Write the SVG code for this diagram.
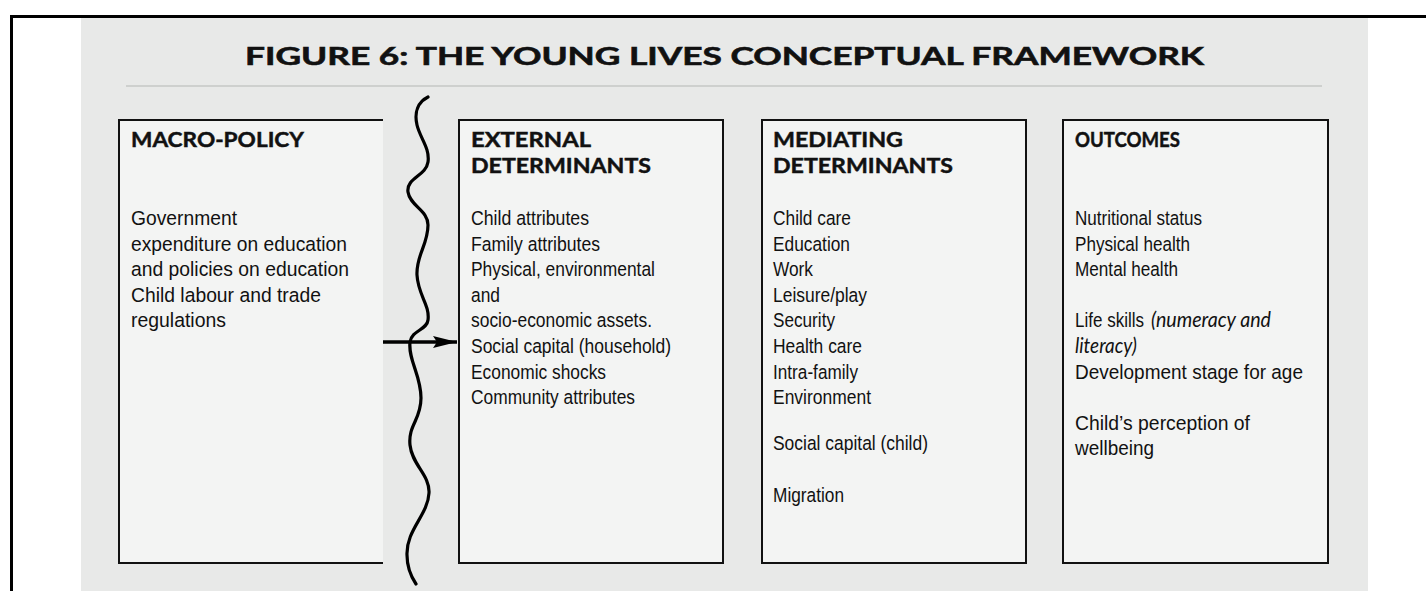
<svg xmlns="http://www.w3.org/2000/svg" width="1426" height="591" viewBox="0 0 1426 591">
  <defs>
    <style>
      .panel { fill: #e8e9e8; }
      .box { fill: #f3f4f3; stroke: #111; stroke-width: 2; }
      .edge { fill: none; stroke: #111; stroke-width: 2; }
      .frame { fill: none; stroke: #000; stroke-width: 3; }
      .title { font-family: Lato, "Liberation Sans", sans-serif; font-weight: 700; font-size: 25px; fill: #111; stroke: #111; stroke-width: 0.6; }
      .head { font-family: Lato, "Liberation Sans", sans-serif; font-weight: 700; font-size: 20px; fill: #111; stroke: #111; stroke-width: 0.45; }
      .body { font-family: "Liberation Sans", Arial, sans-serif; font-size: 19.3px; fill: #111; }
      .narrow { font-family: "Liberation Sans", Arial, sans-serif; font-size: 20.5px; fill: #111; }
      .ital { font-family: Lato, "Liberation Sans", sans-serif; font-style: italic; }
      .wave { fill: none; stroke: #000; stroke-width: 3.2; stroke-linecap: round; }
      .link { fill: none; stroke: #000; stroke-width: 3.6; }
    </style>
    <marker id="arrowhead" markerUnits="userSpaceOnUse" markerWidth="24" markerHeight="12" refX="24" refY="6" orient="auto">
      <path d="M0,0 L24,6 L0,12 L4,6 Z" fill="#000"/>
    </marker>
  </defs>

  <!-- page frame and background panel -->
  <rect x="0" y="0" width="1426" height="591" fill="#ffffff"/>
  <rect class="panel" x="81" y="18" width="1287" height="573"/>
  <path class="frame" d="M11.5,591 V16.5 H1426"/>

  <!-- title -->
  <g id="title">
    <text class="title" x="245" y="65" textLength="959" lengthAdjust="spacingAndGlyphs">FIGURE 6: THE YOUNG LIVES CONCEPTUAL FRAMEWORK</text>
    <line x1="126" y1="86" x2="1322" y2="86" stroke="#c6c7c6" stroke-width="1.5"/>
  </g>

  <!-- macro-policy column (open on the right) -->
  <g id="macro-policy">
    <rect x="119" y="120" width="264" height="443" fill="#f3f4f3"/>
    <path class="edge" d="M383,120 H119 V563 H383"/>
    <text class="head" x="131" y="147" textLength="173" lengthAdjust="spacingAndGlyphs">MACRO-POLICY</text>
    <text class="body" x="131" y="225" textLength="106" lengthAdjust="spacingAndGlyphs">Government</text>
    <text class="body" x="131" y="250.6" textLength="216" lengthAdjust="spacingAndGlyphs">expenditure on education</text>
    <text class="body" x="131" y="276.2" textLength="218" lengthAdjust="spacingAndGlyphs">and policies on education</text>
    <text class="body" x="131" y="301.8" textLength="190" lengthAdjust="spacingAndGlyphs">Child labour and trade</text>
    <text class="body" x="131" y="327.4" textLength="95" lengthAdjust="spacingAndGlyphs">regulations</text>
  </g>

  <!-- external determinants -->
  <g id="external-determinants">
    <rect class="box" x="459" y="120" width="264" height="443"/>
    <text class="head" x="471" y="147" textLength="120" lengthAdjust="spacingAndGlyphs">EXTERNAL</text>
    <text class="head" x="471" y="173" textLength="180" lengthAdjust="spacingAndGlyphs">DETERMINANTS</text>
    <text class="narrow" x="471" y="225" textLength="118" lengthAdjust="spacingAndGlyphs">Child attributes</text>
    <text class="narrow" x="471" y="250.6" textLength="129" lengthAdjust="spacingAndGlyphs">Family attributes</text>
    <text class="narrow" x="471" y="276.2" textLength="184" lengthAdjust="spacingAndGlyphs">Physical, environmental</text>
    <text class="narrow" x="471" y="301.8" textLength="29" lengthAdjust="spacingAndGlyphs">and</text>
    <text class="narrow" x="471" y="327.4" textLength="181" lengthAdjust="spacingAndGlyphs">socio-economic assets.</text>
    <text class="narrow" x="471" y="353" textLength="200" lengthAdjust="spacingAndGlyphs">Social capital (household)</text>
    <text class="narrow" x="471" y="378.6" textLength="135" lengthAdjust="spacingAndGlyphs">Economic shocks</text>
    <text class="narrow" x="471" y="404.2" textLength="164" lengthAdjust="spacingAndGlyphs">Community attributes</text>
  </g>

  <!-- mediating determinants -->
  <g id="mediating-determinants">
    <rect class="box" x="762" y="120" width="264" height="443"/>
    <text class="head" x="773" y="147" textLength="130" lengthAdjust="spacingAndGlyphs">MEDIATING</text>
    <text class="head" x="773" y="173" textLength="180" lengthAdjust="spacingAndGlyphs">DETERMINANTS</text>
    <text class="narrow" x="773" y="225" textLength="78" lengthAdjust="spacingAndGlyphs">Child care</text>
    <text class="narrow" x="773" y="250.6" textLength="77" lengthAdjust="spacingAndGlyphs">Education</text>
    <text class="narrow" x="773" y="276.2" textLength="40" lengthAdjust="spacingAndGlyphs">Work</text>
    <text class="narrow" x="773" y="301.8" textLength="94" lengthAdjust="spacingAndGlyphs">Leisure/play</text>
    <text class="narrow" x="773" y="327.4" textLength="62" lengthAdjust="spacingAndGlyphs">Security</text>
    <text class="narrow" x="773" y="353" textLength="89" lengthAdjust="spacingAndGlyphs">Health care</text>
    <text class="narrow" x="773" y="378.6" textLength="85" lengthAdjust="spacingAndGlyphs">Intra-family</text>
    <text class="narrow" x="773" y="404.2" textLength="98" lengthAdjust="spacingAndGlyphs">Environment</text>
    <text class="narrow" x="773" y="450" textLength="155" lengthAdjust="spacingAndGlyphs">Social capital (child)</text>
    <text class="narrow" x="773" y="501.5" textLength="71" lengthAdjust="spacingAndGlyphs">Migration</text>
  </g>

  <!-- outcomes -->
  <g id="outcomes">
    <rect class="box" x="1063" y="120" width="265" height="443"/>
    <text class="head" x="1075" y="147" textLength="105" lengthAdjust="spacingAndGlyphs">OUTCOMES</text>
    <text class="narrow" x="1075" y="225" textLength="127" lengthAdjust="spacingAndGlyphs">Nutritional status</text>
    <text class="narrow" x="1075" y="250.6" textLength="115" lengthAdjust="spacingAndGlyphs">Physical health</text>
    <text class="narrow" x="1075" y="276.2" textLength="103" lengthAdjust="spacingAndGlyphs">Mental health</text>
    <text class="narrow" x="1075" y="327.4"><tspan textLength="69" lengthAdjust="spacingAndGlyphs">Life skills</tspan><tspan class="ital" x="1151" textLength="120" lengthAdjust="spacingAndGlyphs">(numeracy and</tspan></text>
    <text class="narrow ital" x="1075" y="353" textLength="62" lengthAdjust="spacingAndGlyphs">literacy)</text>
    <text class="body" x="1075" y="378.6" textLength="228" lengthAdjust="spacingAndGlyphs">Development stage for age</text>
    <text class="body" x="1075" y="429.8" textLength="175" lengthAdjust="spacingAndGlyphs">Child’s perception of</text>
    <text class="body" x="1075" y="455.4" textLength="79" lengthAdjust="spacingAndGlyphs">wellbeing</text>
  </g>

  <!-- connectors: policy boundary and influence arrow -->
  <g id="connectors">
    <path class="wave" d="M428,97 C418,102 414,112 417,125 C420,138 430,148 428,162 C426,176 406,178 408,192 C410,206 428,210 428,225 C428,245 416,255 417,275 C418,295 430,305 428,320 C427,330 412,330 410,342 C408,360 421,375 421,398 C421,420 408,425 410,445 C412,465 430,475 429,493 C428,515 406,530 407,555 C407,568 412,578 416,584"/>
    <line class="link" x1="383" y1="342" x2="457" y2="342" marker-end="url(#arrowhead)"/>
  </g>
</svg>
